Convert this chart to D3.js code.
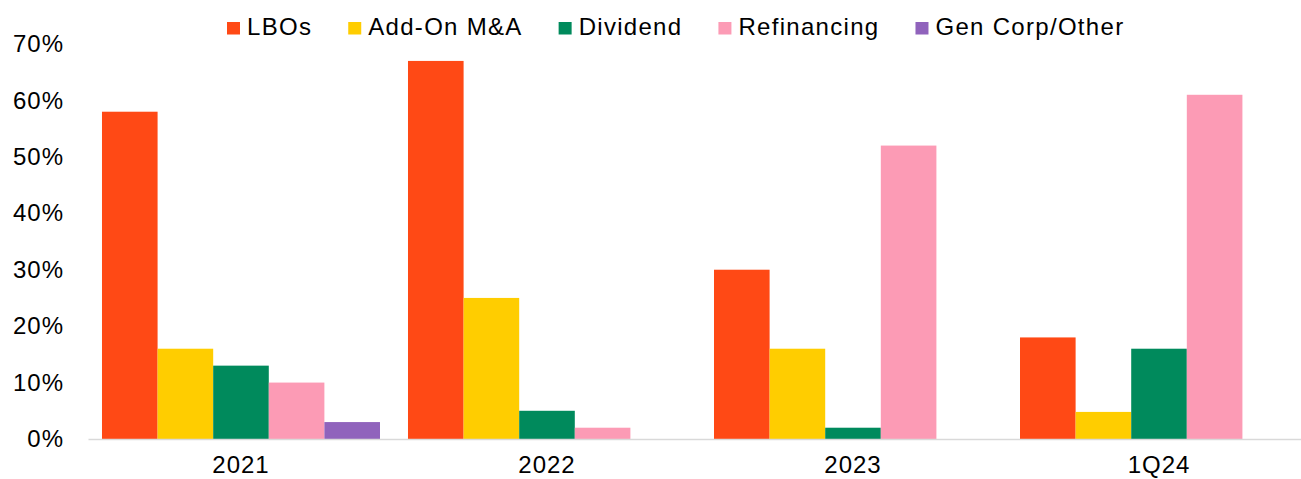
<!DOCTYPE html>
<html>
<head>
<meta charset="utf-8">
<script src="https://cdn.jsdelivr.net/npm/d3@7"></script>
<style>
  body { margin: 0; background: #fff; }
  text { font-family: "Liberation Sans", Arial, sans-serif; fill: #000; }
</style>
</head>
<body>
<script>
// data
var categories = ['2021', '2022', '2023', '1Q24'];
var seriesNames = ['LBOs', 'Add-On M&A', 'Dividend', 'Refinancing', 'Gen Corp/Other'];
var lbos        = [58, 67, 30, 18];
var addOn       = [16, 25, 16, 4.8];
var dividend    = [13, 5, 2, 16];
var refinancing = [10, 2, 52, 61];
var genCorp     = [3, 0, 0, 0];
var yTicks = [0, 10, 20, 30, 40, 50, 60, 70];

var colors = ['#FF4915', '#FFCD00', '#008A5C', '#FC9BB5', '#9063BC'];
var allSeries = [lbos, addOn, dividend, refinancing, genCorp];

var width = 1301, height = 479;

var svg = d3.select("body").append("svg")
    .attr("width", width)
    .attr("height", height);

var x0 = d3.scaleBand()
    .domain(categories)
    .range([88, 1312])
    .paddingInner(0.0915)
    .paddingOuter(0.0457);

var x1 = d3.scaleBand()
    .domain(seriesNames)
    .range([0, x0.bandwidth()]);

var y = d3.scaleLinear()
    .domain([0, 70])
    .range([439, 44]);

// y tick labels
var yAxis = svg.append("g").attr("transform", "translate(64,0)")
    .call(d3.axisLeft(y).tickValues(yTicks).tickFormat(function(d){ return d + "%"; }).tickSize(0).tickPadding(0));
yAxis.select(".domain").remove();
yAxis.selectAll("text")
    .attr("font-size", 24)
    .attr("letter-spacing", 1)
    .style("font-family", '"Liberation Sans", Arial, sans-serif')
    .attr("fill", "#000");

// bars
var groups = svg.selectAll("g.cat")
    .data(categories)
    .enter().append("g")
    .attr("class", "cat")
    .attr("transform", function(d){ return "translate(" + x0(d) + ",0)"; });

groups.selectAll("rect")
    .data(function(d, i){
        return seriesNames.map(function(s, j){ return {name: s, value: allSeries[j][i], color: colors[j]}; });
    })
    .enter().append("rect")
    .attr("x", function(d){ return x1(d.name); })
    .attr("y", function(d){ return y(d.value); })
    .attr("width", x1.bandwidth())
    .attr("height", function(d){ return y(0) - y(d.value); })
    .attr("fill", function(d){ return d.color; });

// x axis line + labels
var xAxis = svg.append("g").attr("transform", "translate(0," + y(0) + ")")
    .call(d3.axisBottom(x0).tickSize(0).tickPadding(17));
xAxis.select(".domain").attr("stroke", "#D9D9D9").attr("stroke-width", 1.5);
xAxis.selectAll("text")
    .attr("font-size", 24)
    .attr("letter-spacing", 1)
    .style("font-family", '"Liberation Sans", Arial, sans-serif')
    .attr("fill", "#000");

// legend
var legend = svg.append("g");
var lx = 227;
seriesNames.forEach(function(s, i){
    legend.append("rect")
        .attr("x", lx).attr("y", 22)
        .attr("width", 13).attr("height", 12.5)
        .attr("fill", colors[i]);
    var t = legend.append("text")
        .attr("x", lx + 20)
        .attr("y", 34.5)
        .attr("font-size", 24)
        .attr("letter-spacing", 1.3)
        .text(s);
    lx = lx + 20 + t.node().getComputedTextLength() + 36;
});
</script>
</body>
</html>
